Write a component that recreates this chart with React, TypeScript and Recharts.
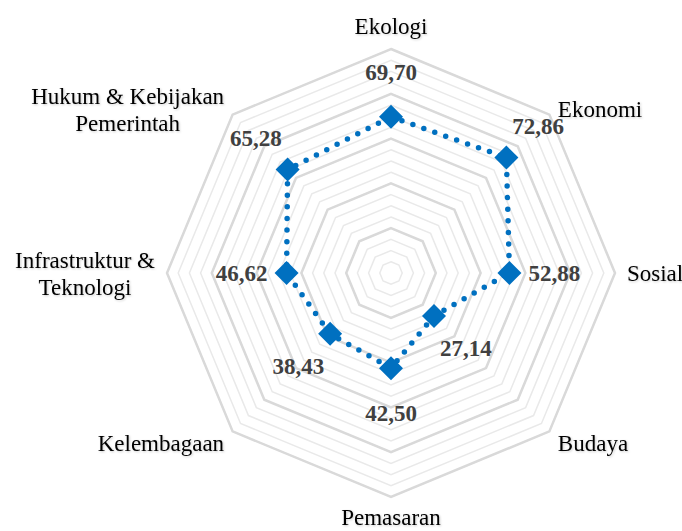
import React from 'react';
import { RadarChart, Radar, PolarGrid, PolarAngleAxis, PolarRadiusAxis, LabelList } from 'recharts';

const categories = ['Ekologi', 'Ekonomi', 'Sosial', 'Budaya', 'Pemasaran', 'Kelembagaan', 'Infrastruktur & Teknologi', 'Hukum & Kebijakan Pemerintah'];
const categoryLines = [['Ekologi'], ['Ekonomi'], ['Sosial'], ['Budaya'], ['Pemasaran'], ['Kelembagaan'], ['Infrastruktur &', 'Teknologi'], ['Hukum & Kebijakan', 'Pemerintah']];
const scores = [69.7, 72.86, 52.88, 27.14, 42.5, 38.43, 46.62, 65.28];

const minorTicks = [5, 10, 15, 20, 25, 30, 35, 40, 45, 50, 55, 60, 65, 70, 75, 80, 85, 90, 95, 100];
const majorTicks = [20, 40, 60, 80, 100];
const maxValue = 100;

const CX = 391;
const CY = 273;
const R = 224;
const FONT = '"Liberation Serif", "Times New Roman", serif';

const data = categories.map((name, i) => ({ name, value: scores[i], lines: categoryLines[i] }));

let measureCtx: CanvasRenderingContext2D | null = null;
const textWidth = (s: string) => {
  if (!measureCtx) {
    measureCtx = document.createElement('canvas').getContext('2d');
  }
  if (!measureCtx) return s.length * 10;
  measureCtx.font = `23px ${FONT}`;
  return measureCtx.measureText(s).width;
};

const AngleTick = (props: any) => {
  const { payload, index } = props;
  const lines: string[] = categoryLines[index] || [payload.value];
  const a = (payload.coordinate * Math.PI) / 180;
  const cos = Math.cos(a);
  const sin = Math.sin(a);
  const r = 236;
  const px = CX + r * cos;
  const py = CY - r * sin;
  const w = Math.max(...lines.map(textWidth));
  let x = px;
  if (cos > 0.1) x = px + w / 2;
  else if (cos < -0.1) x = px - w / 2;
  const lh = 27;
  let firstBaseline: number;
  if (sin > 0.9) {
    firstBaseline = py - 3 - (lines.length - 1) * lh;
  } else if (sin < -0.9) {
    firstBaseline = py + 16;
  } else {
    const center = Math.abs(cos) > 0.9 ? py : py + 3;
    firstBaseline = center - ((lines.length - 1) * lh) / 2 + 8;
  }
  return (
    <g>
      {lines.map((ln, i) => (
        <text
          key={i}
          x={x}
          y={firstBaseline + i * lh}
          textAnchor="middle"
          fontFamily={FONT}
          fontSize={23}
          fill="#000"
          filter="url(#txtShadow)"
        >
          {ln}
        </text>
      ))}
    </g>
  );
};

const ValueLabel = (props: any) => {
  const { x, y, value } = props;
  const dx = x - CX;
  const dy = y - CY;
  const d = Math.sqrt(dx * dx + dy * dy) || 1;
  const lx = x + (dx / d) * 45;
  const ly = y + (dy / d) * 45;
  return (
    <text x={lx} y={ly + 8} textAnchor="middle" fontFamily={FONT} fontSize={23} fontWeight="bold" fill="#404040">
      {Number(value).toFixed(2).replace('.', ',')}
    </text>
  );
};

const Diamond = (props: any) => {
  const { cx, cy } = props;
  const s = 12;
  return <path d={`M${cx},${cy - s}L${cx + s},${cy}L${cx},${cy + s}L${cx - s},${cy}Z`} fill="#0070C0" />;
};

export default function App() {
  return (
    <div style={{ position: 'absolute', left: 0, top: 0, width: 682, height: 531, background: '#fff' }}>
      <RadarChart width={682} height={531} data={data} cx={CX} cy={CY} outerRadius={R} margin={{ top: 0, right: 0, bottom: 0, left: 0 }}>
        <defs>
          <filter id="txtShadow" x="-10%" y="-30%" width="120%" height="160%">
            <feDropShadow dx="1" dy="1" stdDeviation="0.8" floodColor="#000" floodOpacity="0.2" />
          </filter>
        </defs>
        <PolarGrid
          gridType="polygon"
          radialLines={false}
          polarRadius={minorTicks.map((t) => (t / maxValue) * R)}
          stroke="#e9e9e9"
          strokeWidth={1.5}
        />
        <PolarGrid
          gridType="polygon"
          radialLines={false}
          polarRadius={majorTicks.map((t) => (t / maxValue) * R)}
          stroke="#d9d9d9"
          strokeWidth={2.5}
        />
        <PolarAngleAxis dataKey="name" tick={<AngleTick />} axisLine={false} tickLine={false} />
        <PolarRadiusAxis domain={[0, maxValue]} tick={false} axisLine={false} />
        <Radar
          dataKey="value"
          stroke="#0070C0"
          strokeWidth={5.5}
          strokeDasharray="0 11.6"
          strokeLinecap="round"
          fill="none"
          fillOpacity={0}
          dot={<Diamond />}
          isAnimationActive={false}
        >
          <LabelList dataKey="value" content={<ValueLabel />} />
        </Radar>
      </RadarChart>
    </div>
  );
}
